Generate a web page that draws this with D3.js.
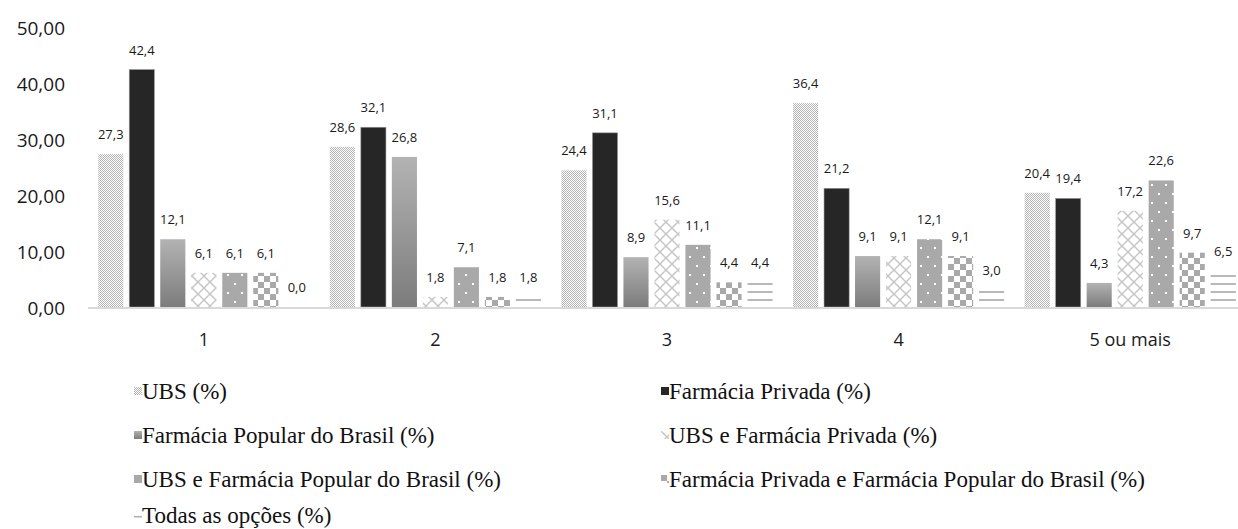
<!DOCTYPE html>
<html>
<head>
<meta charset="utf-8">
<script src="https://cdn.jsdelivr.net/npm/d3@7"></script>
<style>
  body { margin: 0; background: #fff; }
  .legend text { font-family: "Liberation Serif", "Times New Roman", Times, "DejaVu Serif", serif; }
</style>
</head>
<body>
<script>
// Chart data
let categories = ['1', '2', '3', '4', '5 ou mais']
let seriesNames = [
    'UBS (%)',
    'Farmácia Privada (%)',
    'Farmácia Popular do Brasil (%)',
    'UBS e Farmácia Privada (%)',
    'UBS e Farmácia Popular do Brasil (%)',
    'Farmácia Privada e Farmácia Popular do Brasil (%)',
    'Todas as opções (%)'
]
let ubs = [27.3, 28.6, 24.4, 36.4, 20.4]
let privada = [42.4, 32.1, 31.1, 21.2, 19.4]
let popular = [12.1, 26.8, 8.9, 9.1, 4.3]
let ubsPrivada = [6.1, 1.8, 15.6, 9.1, 17.2]
let ubsPopular = [6.1, 7.1, 11.1, 12.1, 22.6]
let privadaPopular = [6.1, 1.8, 4.4, 9.1, 9.7]
let todas = [0.0, 1.8, 4.4, 3.0, 6.5]
let yTicks = [0, 10, 20, 30, 40, 50]

let seriesValues = [ubs, privada, popular, ubsPrivada, ubsPopular, privadaPopular, todas]

// Container sizing
let width = 1238
let height = 529

let svg = d3.select('body')
    .append('svg')
    .attr('width', width)
    .attr('height', height)

// Patterns used for the fills
let defs = svg.append('defs')

let dither = defs.append('pattern').attr('id', 'p0')
    .attr('patternUnits', 'userSpaceOnUse').attr('width', 2).attr('height', 2)
dither.append('rect').attr('width', 2).attr('height', 2).attr('fill', '#fff')
dither.append('rect').attr('width', 1).attr('height', 1).attr('fill', '#b4b4b4')
dither.append('rect').attr('x', 1).attr('y', 1).attr('width', 1).attr('height', 1).attr('fill', '#b4b4b4')

let grad = defs.append('linearGradient').attr('id', 'p2')
    .attr('x1', 0).attr('y1', 0).attr('x2', 0).attr('y2', 1)
grad.append('stop').attr('offset', '0%').attr('stop-color', '#b3b3b3')
grad.append('stop').attr('offset', '100%').attr('stop-color', '#7c7c7c')

let lattice = defs.append('pattern').attr('id', 'p3')
    .attr('patternUnits', 'userSpaceOnUse').attr('width', 12).attr('height', 12)
lattice.append('rect').attr('width', 12).attr('height', 12).attr('fill', '#fff')
lattice.append('path').attr('d', 'M0,0L12,12M12,0L0,12')
    .attr('stroke', '#c4c4c4').attr('stroke-width', 1.4).attr('fill', 'none')

let dots = defs.append('pattern').attr('id', 'p4')
    .attr('patternUnits', 'userSpaceOnUse').attr('width', 14).attr('height', 18)
dots.append('rect').attr('width', 14).attr('height', 18).attr('fill', '#a9a9a9')
dots.append('rect').attr('x', 3).attr('y', 4).attr('width', 2).attr('height', 2).attr('fill', '#fff')
dots.append('rect').attr('x', 10).attr('y', 13).attr('width', 2).attr('height', 2).attr('fill', '#fff')

let checker = defs.append('pattern').attr('id', 'p5')
    .attr('patternUnits', 'userSpaceOnUse').attr('width', 12).attr('height', 12)
checker.append('rect').attr('width', 12).attr('height', 12).attr('fill', '#fff')
checker.append('rect').attr('width', 6).attr('height', 6).attr('fill', '#a9a9a9')
checker.append('rect').attr('x', 6).attr('y', 6).attr('width', 6).attr('height', 6).attr('fill', '#a9a9a9')

let hlines = defs.append('pattern').attr('id', 'p6')
    .attr('patternUnits', 'userSpaceOnUse').attr('width', 8).attr('height', 8)
hlines.append('rect').attr('width', 8).attr('height', 8).attr('fill', '#fff')
hlines.append('rect').attr('y', 3).attr('width', 8).attr('height', 2).attr('fill', '#b8b8b8')

let fills = ['url(#p0)', '#262626', 'url(#p2)', 'url(#p3)', 'url(#p4)', 'url(#p5)', 'url(#p6)']

// Scales
let x0 = d3.scaleBand()
    .domain(categories)
    .range([88, 1246])

let x1 = d3.scaleBand()
    .domain(d3.range(seriesNames.length))
    .range([0, x0.bandwidth()])
    .paddingInner(0.19)
    .paddingOuter(0.33)

let yScale = d3.scaleLinear()
    .domain([0, 50])
    .range([307, 27])

let fmt = v => v.toFixed(1).replace('.', ',')

// Y axis labels
svg.append('g').selectAll('text')
    .data(yTicks)
    .join('text')
    .attr('x', 65)
    .attr('y', d => yScale(d) + 1)
    .attr('text-anchor', 'end')
    .attr('dominant-baseline', 'central')
    .attr('font-family', 'Open Sans')
    .attr('font-size', 19)
    .attr('fill', '#1a1a1a')
    .text(d => d.toFixed(2).replace('.', ','))

// Bars
let rows = []
categories.forEach((c, ci) => {
    seriesValues.forEach((vals, si) => {
        rows.push({ cat: c, s: si, v: vals[ci] })
    })
})

svg.append('g').selectAll('rect')
    .data(rows)
    .join('rect')
    .attr('x', d => x0(d.cat) + x1(d.s))
    .attr('y', d => yScale(d.v))
    .attr('width', x1.bandwidth())
    .attr('height', d => yScale(0) - yScale(d.v))
    .attr('fill', d => fills[d.s])
    .attr('stroke', d => d.s === 1 ? '#9a9a9a' : 'none')
    .attr('stroke-width', 0.6)

// Axis baseline
svg.append('line')
    .attr('x1', 88).attr('x2', width)
    .attr('y1', yScale(0) + 1).attr('y2', yScale(0) + 1)
    .attr('stroke', '#d9d9d9')
    .attr('stroke-width', 2)

// Data labels
svg.append('g').selectAll('text')
    .data(rows)
    .join('text')
    .attr('x', d => x0(d.cat) + x1(d.s) + x1.bandwidth() / 2)
    .attr('y', d => yScale(d.v) - 15)
    .attr('text-anchor', 'middle')
    .attr('font-family', 'Open Sans')
    .attr('font-size', 13)
    .attr('fill', '#1a1a1a')
    .text(d => fmt(d.v))

// Category labels
svg.append('g').selectAll('text')
    .data(categories)
    .join('text')
    .attr('x', d => x0(d) + x0.bandwidth() / 2)
    .attr('y', 346)
    .attr('text-anchor', 'middle')
    .attr('font-family', 'Open Sans')
    .attr('font-size', 18)
    .attr('fill', '#1a1a1a')
    .text(d => d)

// Legend
let legendY = [399, 443, 487, 523]

let legend = svg.append('g').attr('class', 'legend').selectAll('g')
    .data(seriesNames)
    .join('g')
    .attr('transform', (d, i) => `translate(${i % 2 === 0 ? 134 : 661}, ${legendY[Math.floor(i / 2)]})`)

legend.each(function (d, i) {
    let g = d3.select(this)
    if (i === 6) {
        g.append('rect').attr('x', 0).attr('y', -7).attr('width', 8).attr('height', 1.5).attr('fill', '#b0b0b0')
    } else {
        g.append('rect').attr('x', 0).attr('y', -12).attr('width', 8).attr('height', 8)
            .attr('fill', fills[i])
    }
})

legend.append('text')
    .attr('x', 8)
    .attr('y', 0)
    .attr('font-size', 23)
    .attr('fill', '#111')
    .text(d => d)
</script>
</body>
</html>
